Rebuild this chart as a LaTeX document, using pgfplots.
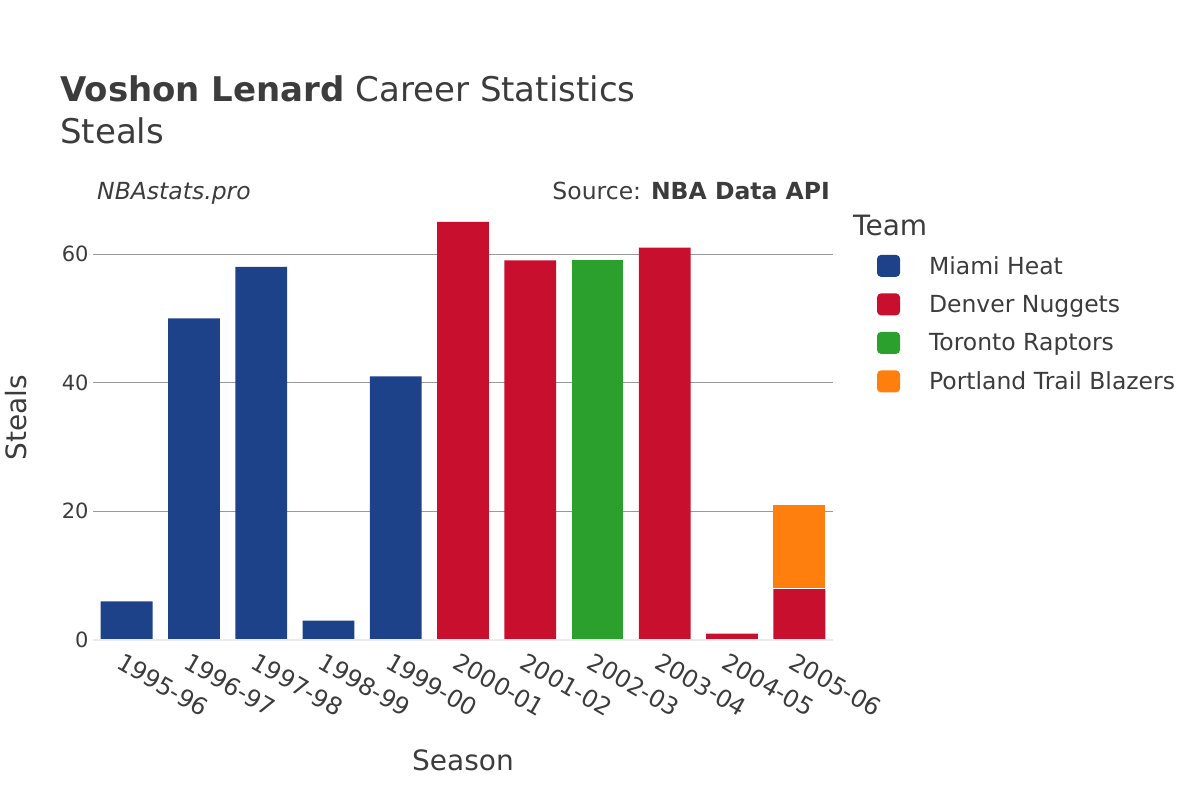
\documentclass[border=0pt]{standalone}
\usepackage{pgfplots}
\pgfplotsset{compat=1.18}
\usepackage{fontspec}
\setmainfont{DejaVu Sans}
\definecolor{txt}{RGB}{60,60,60}
\definecolor{miami}{RGB}{29,66,138}
\definecolor{denver}{RGB}{200,16,46}
\definecolor{toronto}{RGB}{44,160,44}
\definecolor{portland}{RGB}{255,127,14}
\begin{document}
\begin{tikzpicture}
\path[use as bounding box] (0,0) rectangle (1200bp,800bp);
\begin{axis}[
  at={(93bp,160bp)}, anchor=south west,
  width=740bp, height=440bp, scale only axis,
  ybar stacked, bar width=0.77,
  xmin=-0.5, xmax=10.5, ymin=0, ymax=68.4,
  xtick={0,...,10},
  xticklabels={1995-96,1996-97,1997-98,1998-99,1999-00,2000-01,2001-02,2002-03,2003-04,2004-05,2005-06},
  xticklabel style={rotate=-30, anchor=north west, font=\fontsize{24bp}{28bp}\selectfont, text=txt, xshift=0bp, yshift=-8bp},
  ytick={0,20,40,60},
  yticklabel style={font=\fontsize{21bp}{24bp}\selectfont, text=txt, xshift=-1bp},
  /pgf/number format/assume math mode=true,
  major tick length=0pt,
  axis line style={draw=none},
  ymajorgrids, grid style={draw=gray!80, line width=0.8bp},
  legend style={at={(1.0595,0.894)}, anchor=north west, draw=none, fill=none,
    inner sep=0pt, outer sep=0pt,
    font=\fontsize{23.5bp}{28bp}\selectfont, text=txt, row sep=0pt,
    nodes={minimum height=38.5bp, inner sep=0pt}},
  legend cell align=left,
  legend image code/.code={\fill[#1,rounded corners=4bp] (0bp,-11bp) rectangle (23bp,11bp); \path[draw=none,fill=none] (0bp,0bp) -- (52bp,0bp);},
  clip=false,
]
\draw[line width=2bp, draw=black!8] (axis cs:-0.5,0) -- (axis cs:10.5,0);
\addplot[fill=miami, draw=none] coordinates {(0,6) (1,50) (2,58) (3,3) (4,41) (5,0) (6,0) (7,0) (8,0) (9,0) (10,0)};
\addplot[fill=denver, draw=none] coordinates {(0,0) (1,0) (2,0) (3,0) (4,0) (5,65) (6,59) (7,0) (8,61) (9,1) (10,8)};
\addplot[fill=toronto, draw=none] coordinates {(0,0) (1,0) (2,0) (3,0) (4,0) (5,0) (6,0) (7,59) (8,0) (9,0) (10,0)};
\addplot[fill=portland, draw=none] coordinates {(0,0) (1,0) (2,0) (3,0) (4,0) (5,0) (6,0) (7,0) (8,0) (9,0) (10,13)};
\legend{Miami Heat, Denver Nuggets, Toronto Raptors, Portland Trail Blazers}
\end{axis}
\draw[white, line width=1bp] (93bp+10*67.27bp+0.5*67.27bp-0.385*67.27bp, 160bp+8*6.433bp) -- ++(0.77*67.27bp,0);
\node[anchor=base west, text=txt, font=\fontsize{34bp}{40bp}\selectfont, inner sep=0pt] at (60bp,698bp) {\textbf{Voshon Lenard} Career Statistics};
\node[anchor=base west, text=txt, font=\fontsize{34bp}{40bp}\selectfont, inner sep=0pt] at (60bp,656bp) {Steals};
\node[anchor=base west, text=txt, font=\fontsize{23.5bp}{28bp}\selectfont\itshape, inner sep=0pt] at (97bp,600bp) {NBAstats.pro};
\node[anchor=base east, text=txt, font=\fontsize{23.5bp}{28bp}\selectfont, inner sep=0pt] at (830bp,600bp) {Source: \textbf{NBA Data API}};
\node[anchor=base west, text=txt, font=\fontsize{28bp}{32bp}\selectfont, inner sep=0pt] at (853bp,564bp) {Team};
\node[anchor=center, rotate=90, text=txt, font=\fontsize{28bp}{32bp}\selectfont] at (16bp,382bp) {Steals};
\node[anchor=center, text=txt, font=\fontsize{28bp}{32bp}\selectfont] at (463bp,40bp) {Season};
\end{tikzpicture}
\end{document}
